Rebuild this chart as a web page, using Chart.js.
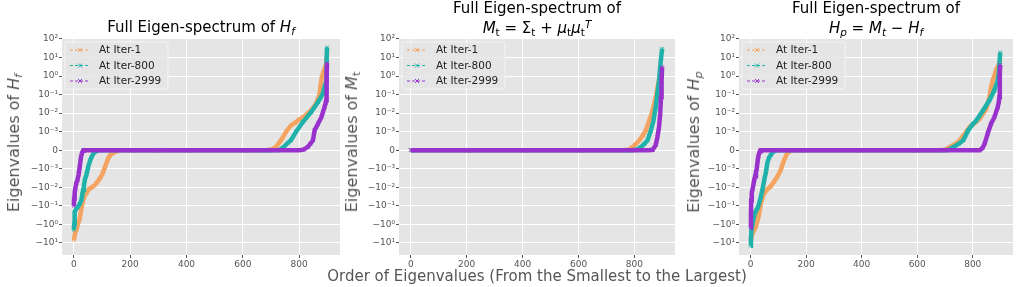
<!DOCTYPE html>
<html>
<head>
<meta charset="utf-8">
<script src="https://cdn.jsdelivr.net/npm/chart.js@4.4.1/dist/chart.umd.min.js"></script>
<style>
  body { margin: 0; background: #fff; }
  #fig { position: relative; width: 1024px; height: 287px; overflow: hidden; font-family: 'DejaVu Sans', sans-serif; }
  .panel { position: absolute; top: 0; }
  .ttl { position: absolute; font-size: 15px; line-height: 17px; color: #000; white-space: nowrap; transform: translateX(-50%); }
  .ylab { position: absolute; font-size: 16px; line-height: 18px; color: #555; white-space: nowrap; transform: translate(-50%, -50%) rotate(-90deg); }
  .xlab { position: absolute; font-size: 15px; line-height: 17px; color: #555; white-space: nowrap; transform: translateX(-50%); }
  sub { font-size: 70%; position: relative; top: 0.3em; vertical-align: baseline; }
  sup { font-size: 70%; position: relative; top: -0.5em; vertical-align: baseline; }
</style>
</head>
<body>
<div id="fig">
  <canvas id="c1" class="panel" width="325" height="287" style="left:20px"></canvas>
  <canvas id="c2" class="panel" width="320" height="287" style="left:360px"></canvas>
  <canvas id="c3" class="panel" width="324" height="287" style="left:700px"></canvas>

  <div class="ttl" style="left:201px;top:19px">Full Eigen-spectrum of <i>H</i><sub><i>f</i></sub></div>
  <div class="ttl" style="left:537px;top:0px">Full Eigen-spectrum of</div>
  <div class="ttl" style="left:537px;top:20px"><i>M</i><sub>t</sub> = Σ<sub>t</sub> + <i>μ</i><sub>t</sub><i>μ</i><sub>t</sub><sup><i>T</i></sup></div>
  <div class="ttl" style="left:876px;top:0px">Full Eigen-spectrum of</div>
  <div class="ttl" style="left:876px;top:20px"><i>H</i><sub><i>p</i></sub> = <i>M</i><sub><i>t</i></sub> − <i>H</i><sub><i>f</i></sub></div>

  <div class="ylab" style="left:15px;top:143px">Eigenvalues of <i>H</i><sub><i>f</i></sub></div>
  <div class="ylab" style="left:353px;top:142px">Eigenvalues of <i>M</i><sub>t</sub></div>
  <div class="ylab" style="left:695px;top:142px">Eigenvalues of <i>H</i><sub><i>p</i></sub></div>

  <div class="xlab" style="left:537px;top:268px">Order of Eigenvalues (From the Smallest to the Largest)</div>
</div>

<script>
// axis ticks
const yTickValues = [100, 10, 1, 0.1, 0.01, 0.001, 0, -0.001, -0.01, -0.1, -1, -10];
const yTickLabels = ['10²', '10¹', '10⁰', '10⁻¹', '10⁻²', '10⁻³', '0', '−10⁻³', '−10⁻²', '−10⁻¹', '−10⁰', '−10¹'];
const xTickValues = [0, 200, 400, 600, 800];

const seriesNames = ['At Iter-1', 'At Iter-800', 'At Iter-2999'];
const seriesColors = ['#f4a460', '#20b2aa', '#9932cc'];

// eigenvalues, [order index, eigenvalue]
// H_f
const hfIter1 = [[0,-7],[3,-4],[6,-2.5],[9,-2],[13,-1.2],[17,-0.7],[21,-0.5],[25,-0.2],[29,-0.1],[33,-0.05],[38,-0.03],[45,-0.02],[55,-0.012],[69,-0.009],[80,-0.006],[93,-0.0033],[102,-0.0018],[111,-0.0009],[120,-0.0005],[129,-0.00027],[138,-0.00015],[146,-0.00009],[158,-0.00002],[170,0],[300,0],[500,0],[650,0],[688,0.00001],[705,0.00006],[718,0.00018],[736,0.00054],[754,0.001],[771,0.0022],[785,0.003],[800,0.0045],[820,0.007],[840,0.013],[855,0.025],[865,0.05],[872,0.1],[876,0.3],[880,0.8],[885,1.5],[890,2.5],[895,4],[898,8],[899,15]];
const hfIter800 = [[0,-2],[1,-1],[2,-0.5],[4,-0.21],[8,-0.15],[15,-0.11],[21,-0.08],[27,-0.049],[30,-0.025],[33,-0.014],[36,-0.008],[39,-0.004],[45,-0.002],[51,-0.0009],[57,-0.0006],[63,-0.00036],[69,-0.0002],[75,-0.00009],[84,-0.00003],[93,0],[300,0],[500,0],[700,0],[729,0.00001],[746,0.00018],[760,0.0004],[771,0.00054],[789,0.001],[813,0.0033],[843,0.0115],[867,0.04],[884,0.11],[890,0.25],[896,0.5],[897,1.5],[898,8],[899,35]];
const hfIter2999 = [[0,-0.1],[1,-0.04],[3,-0.02],[5,-0.012],[9,-0.006],[13,-0.004],[17,-0.002],[21,-0.0009],[25,-0.0004],[29,-0.00015],[33,-0.00003],[36,0],[300,0],[500,0],[700,0],[800,0],[815,0.00003],[831,0.00018],[840,0.00035],[849,0.00054],[855,0.0012],[867,0.0027],[879,0.006],[890,0.021],[894,0.035],[896,0.05],[897,0.17],[898,1.5],[899,5]];
// M_t
const mtIter1 = [[0,0],[200,0],[400,0],[600,0],[760,0],[780,0.00003],[794,0.00018],[806,0.00035],[818,0.00054],[830,0.0008],[841,0.0012],[853,0.004],[862,0.01],[870,0.03],[878,0.1],[884,0.3],[890,1],[895,2],[899,3]];
const mtIter800 = [[0,0],[200,0],[400,0],[600,0],[790,0],[810,0.00004],[824,0.00018],[836,0.00035],[847,0.00054],[859,0.0012],[868,0.004],[876,0.021],[882,0.11],[888,0.58],[892,3],[895,8.5],[899,30]];
const mtIter2999 = [[0,0],[200,0],[400,0],[600,0],[800,0],[850,0],[865,0.00002],[876,0.00027],[882,0.0007],[888,0.0018],[892,0.009],[895,0.074],[897,0.58],[899,3]];
// H_p
const hpIter1 = [[0,-7],[1,-6.5],[7,-3],[13,-2],[19,-1.3],[25,-0.6],[31,-0.25],[37,-0.074],[43,-0.035],[49,-0.021],[60,-0.013],[72,-0.009],[84,-0.005],[96,-0.0027],[108,-0.0012],[120,-0.00054],[131,-0.00018],[140,-0.00006],[149,-0.00001],[160,0],[300,0],[500,0],[680,0],[700,0.00003],[718,0.00018],[748,0.00045],[772,0.0009],[789,0.0018],[808,0.003],[825,0.005],[849,0.017],[860,0.074],[866,0.25],[872,0.58],[884,2],[896,5],[899,8]];
const hpIter800 = [[0,-14],[1,-5.4],[3,-2],[7,-0.87],[13,-0.31],[19,-0.18],[25,-0.135],[31,-0.07],[37,-0.032],[43,-0.012],[49,-0.004],[55,-0.0015],[60,-0.0007],[66,-0.0004],[72,-0.00027],[80,-0.0001],[90,-0.00002],[100,0],[300,0],[500,0],[700,0],[715,0.00003],[731,0.00018],[750,0.00035],[766,0.00054],[784,0.0012],[800,0.0025],[813,0.004],[837,0.014],[860,0.049],[878,0.17],[890,0.58],[894,1.5],[896,4.7],[899,19]];
const hpIter2999 = [[0,-1.5],[1,-0.3],[2,-0.05],[4,-0.02],[7,-0.012],[10,-0.007],[13,-0.004],[16,-0.0025],[19,-0.0015],[22,-0.001],[25,-0.0006],[28,-0.0003],[31,-0.00015],[34,-0.00005],[37,0],[300,0],[500,0],[700,0],[825,0],[835,0.0001],[843,0.00036],[854,0.0009],[866,0.0027],[878,0.006],[890,0.021],[894,0.04],[896,0.074],[897,0.58],[898,1.5],[899,4]];

// symlog transform, linear inside +-1e-3
const LINTHRESH = 1e-3;
function symlog(v) {
  const a = Math.abs(v);
  return a <= LINTHRESH ? v / LINTHRESH : Math.sign(v) * (1 + Math.log10(a / LINTHRESH));
}
function symexp(t) {
  const a = Math.abs(t);
  return a <= 1 ? t * LINTHRESH : Math.sign(t) * LINTHRESH * Math.pow(10, a - 1);
}
const Y_MIN = symexp(-5.65);
const Y_MAX = symexp(6.05);

class SymlogScale extends Chart.Scale {
  static id = 'symlog';
  static defaults = {};
  determineDataLimits() {
    const { min, max } = this.getMinMax(true);
    this.min = Number.isFinite(this.options.min) ? this.options.min : min;
    this.max = Number.isFinite(this.options.max) ? this.options.max : max;
  }
  buildTicks() {
    return yTickValues.map(v => ({ value: v }));
  }
  configure() {
    super.configure();
    this._tStart = symlog(this.min);
    this._tRange = symlog(this.max) - this._tStart;
  }
  getLabelForValue(v) {
    return String(v);
  }
  getPixelForValue(v) {
    return this.getPixelForDecimal((symlog(v) - this._tStart) / this._tRange);
  }
  getValueForPixel(p) {
    return symexp(this._tStart + this.getDecimalForPixel(p) * this._tRange);
  }
}
Chart.register(SymlogScale);

// grey plot background
const bgPlugin = {
  id: 'plotBg',
  beforeDraw(chart) {
    const a = chart.chartArea;
    chart.ctx.save();
    chart.ctx.fillStyle = '#e5e5e5';
    chart.ctx.fillRect(a.left, a.top, a.right - a.left, a.bottom - a.top);
    chart.ctx.restore();
  }
};

// legend in upper-left: dashed line with x marker
const legendPlugin = {
  id: 'eigLegend',
  afterDatasetsDraw(chart) {
    const ctx = chart.ctx;
    const a = chart.chartArea;
    const x0 = a.left + 3, y0 = a.top + 4;
    ctx.save();
    ctx.beginPath();
    ctx.roundRect(x0, y0, 103, 47, 2);
    ctx.fillStyle = 'rgba(229,229,229,0.8)';
    ctx.fill();
    ctx.strokeStyle = '#f4f4f4';
    ctx.lineWidth = 1;
    ctx.stroke();
    seriesNames.forEach((name, i) => {
      const y = y0 + 8 + i * 15.5;
      ctx.strokeStyle = seriesColors[i];
      ctx.lineWidth = 1;
      ctx.setLineDash([3, 2]);
      ctx.beginPath();
      ctx.moveTo(x0 + 5, y);
      ctx.lineTo(x0 + 25, y);
      ctx.stroke();
      ctx.setLineDash([]);
      const cx = x0 + 15, r = 2;
      ctx.beginPath();
      ctx.moveTo(cx - r, y - r); ctx.lineTo(cx + r, y + r);
      ctx.moveTo(cx - r, y + r); ctx.lineTo(cx + r, y - r);
      ctx.stroke();
      ctx.fillStyle = '#222';
      ctx.font = '10.5px "DejaVu Sans"';
      ctx.textBaseline = 'middle';
      ctx.fillText(name, x0 + 34, y + 0.5);
    });
    ctx.restore();
  }
};

function makePanel(id, series, yAxisWidth, padRight) {
  const tickFont = { family: 'DejaVu Sans', size: 9 };
  return new Chart(document.getElementById(id), {
    type: 'scatter',
    data: {
      datasets: series.map((pts, i) => ({
        label: seriesNames[i],
        data: pts.map(([x, y]) => ({ x, y })),
        showLine: true,
        borderColor: seriesColors[i],
        backgroundColor: seriesColors[i],
        borderWidth: 4.5,
        pointStyle: 'crossRot',
        pointRadius: 2.5,
        pointBorderWidth: 1,
        pointBorderColor: seriesColors[i],
        order: 3 - i
      }))
    },
    options: {
      responsive: false,
      animation: false,
      events: [],
      layout: { padding: { top: 38, right: padRight, left: 0, bottom: 0 } },
      plugins: { legend: { display: false }, tooltip: { enabled: false } },
      scales: {
        x: {
          type: 'linear',
          min: -42,
          max: 945,
          afterBuildTicks: s => { s.ticks = xTickValues.map(v => ({ value: v })); },
          afterFit: s => { s.height = 32; },
          grid: { color: '#ffffff', lineWidth: 1, tickLength: 3, tickColor: '#555' },
          border: { display: false },
          ticks: { color: '#555', font: tickFont, padding: 1, maxRotation: 0, autoSkip: false }
        },
        y: {
          type: 'symlog',
          min: Y_MIN,
          max: Y_MAX,
          afterFit: s => { s.width = yAxisWidth; },
          grid: { color: '#ffffff', lineWidth: 1, tickLength: 3, tickColor: '#555' },
          border: { display: false },
          ticks: {
            color: '#555', font: tickFont, padding: 1, autoSkip: false,
            callback: v => yTickLabels[yTickValues.indexOf(v)]
          }
        }
      }
    },
    plugins: [bgPlugin, legendPlugin]
  });
}

makePanel('c1', [hfIter1, hfIter800, hfIter2999], 42, 5);
makePanel('c2', [mtIter1, mtIter800, mtIter2999], 39, 5);
makePanel('c3', [hpIter1, hpIter800, hpIter2999], 39, 11);
</script>
</body>
</html>
